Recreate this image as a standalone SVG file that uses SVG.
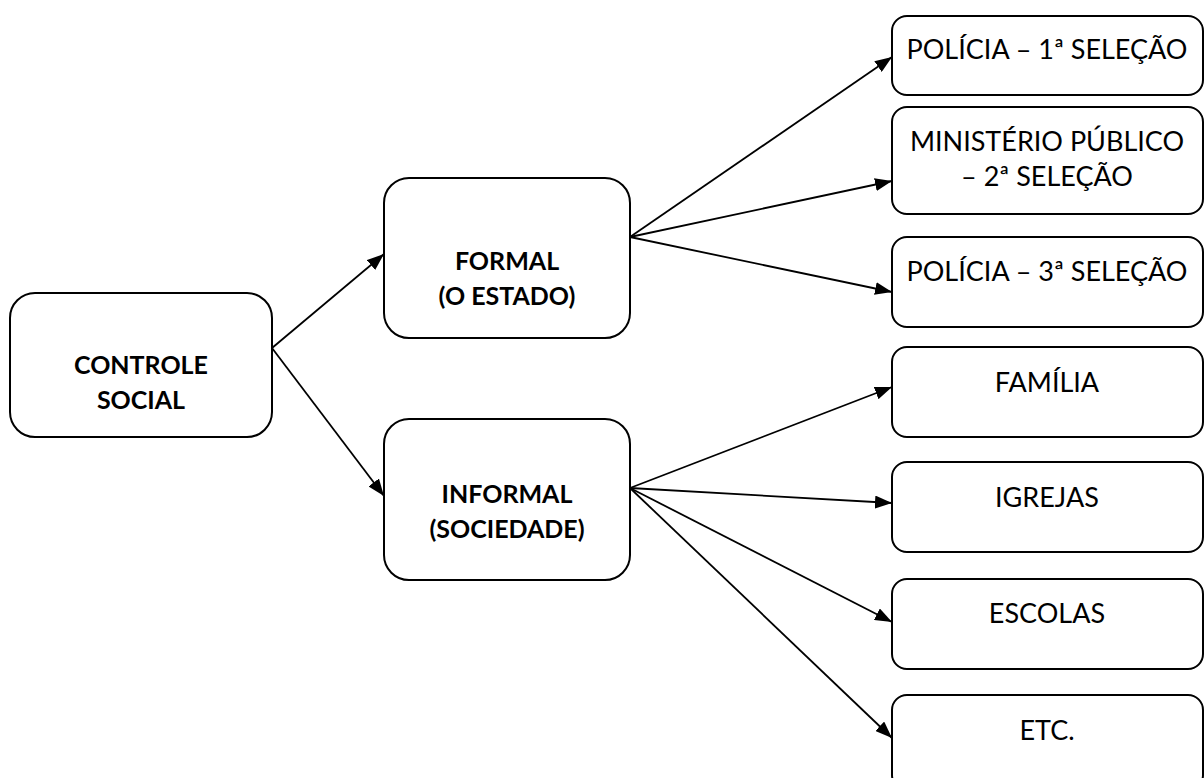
<svg xmlns="http://www.w3.org/2000/svg" width="1204" height="778" viewBox="0 0 1204 778">
<style>
.box{fill:#fff;stroke:#000;stroke-width:2}
.t{font-family:Lato,"Liberation Sans",sans-serif;font-size:27px;fill:#000;text-anchor:middle}
.b{font-weight:bold;font-size:25px}
.c{stroke:#000;stroke-width:1.8;fill:none;marker-end:url(#ah)}
</style>
<defs>
<marker id="ah" markerWidth="17" markerHeight="13" refX="17" refY="6.5" orient="auto" markerUnits="userSpaceOnUse">
<path d="M0,0 L17,6.5 L0,13 Z" fill="#000"/>
</marker>
</defs>
<rect width="1204" height="778" fill="#fff"/>
<g id="connectors">
<line class="c" x1="272" y1="348" x2="384" y2="254"/>
<line class="c" x1="272" y1="348" x2="384" y2="496"/>
<line class="c" x1="630" y1="237" x2="892" y2="57"/>
<line class="c" x1="630" y1="237" x2="892" y2="181"/>
<line class="c" x1="630" y1="237" x2="892" y2="292"/>
<line class="c" x1="630" y1="488" x2="892" y2="387"/>
<line class="c" x1="630" y1="488" x2="892" y2="503"/>
<line class="c" x1="630" y1="488" x2="892" y2="622"/>
<line class="c" x1="630" y1="488" x2="892" y2="738"/>
</g>
<g id="controle">
<rect class="box" x="10" y="293" width="262" height="144" rx="25"/>
<text class="t b" x="141" y="374">CONTROLE</text>
<text class="t b" x="141" y="409">SOCIAL</text>
</g>
<g id="formal">
<rect class="box" x="384" y="178" width="246" height="160" rx="25"/>
<text class="t b" x="507" y="270">FORMAL</text>
<text class="t b" x="507" y="305">(O ESTADO)</text>
</g>
<g id="informal">
<rect class="box" x="384" y="419" width="246" height="161" rx="25"/>
<text class="t b" x="507" y="503">INFORMAL</text>
<text class="t b" x="507" y="538">(SOCIEDADE)</text>
</g>
<g id="policia1">
<rect class="box" x="892" y="16" width="311" height="79" rx="15"/>
<text class="t" x="1047" y="59">POLÍCIA – 1ª SELEÇÃO</text>
</g>
<g id="ministerio">
<rect class="box" x="892" y="107" width="311" height="107" rx="15"/>
<text class="t" x="1047" y="151">MINISTÉRIO PÚBLICO</text>
<text class="t" x="1047" y="186">– 2ª SELEÇÃO</text>
</g>
<g id="policia3">
<rect class="box" x="892" y="237" width="311" height="90" rx="15"/>
<text class="t" x="1047" y="281">POLÍCIA – 3ª SELEÇÃO</text>
</g>
<g id="familia">
<rect class="box" x="892" y="347" width="311" height="90" rx="15"/>
<text class="t" x="1047" y="392">FAMÍLIA</text>
</g>
<g id="igrejas">
<rect class="box" x="892" y="462" width="311" height="90" rx="15"/>
<text class="t" x="1047" y="507">IGREJAS</text>
</g>
<g id="escolas">
<rect class="box" x="892" y="579" width="311" height="90" rx="15"/>
<text class="t" x="1047" y="623">ESCOLAS</text>
</g>
<g id="etc">
<rect class="box" x="892" y="695" width="311" height="95" rx="15"/>
<text class="t" x="1047" y="740">ETC.</text>
</g>
</svg>
